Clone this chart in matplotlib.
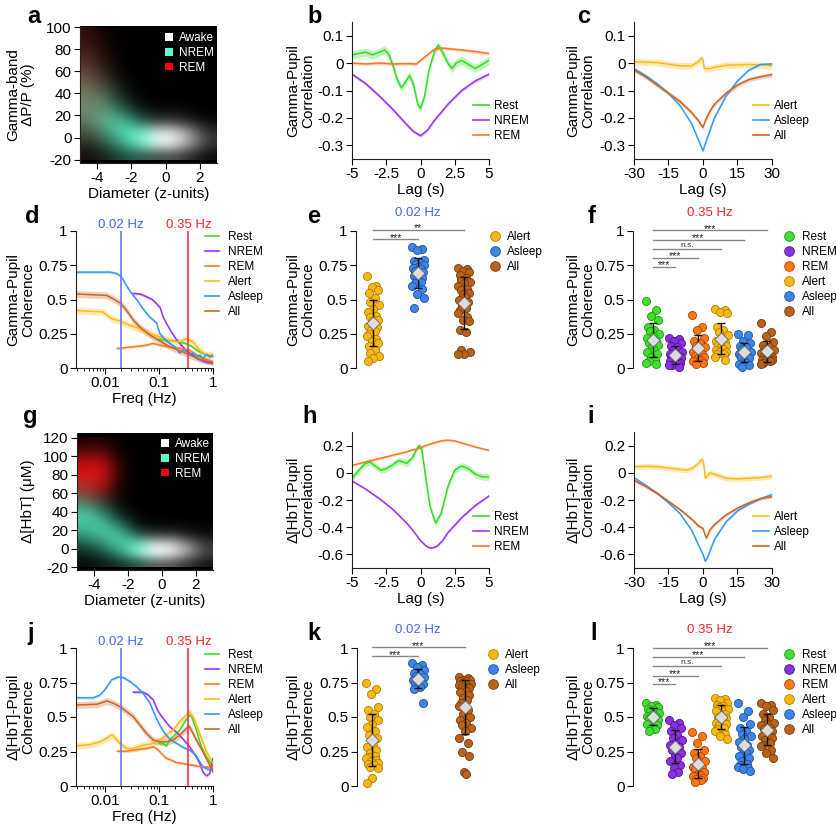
import numpy as np
import matplotlib
matplotlib.use('Agg')
import matplotlib.pyplot as plt
from matplotlib.patches import Patch
from matplotlib.lines import Line2D
import matplotlib.transforms as mtransforms

plt.rcParams['font.family'] = ['Liberation Sans', 'DejaVu Sans']
plt.rcParams['axes.unicode_minus'] = False

W, H = 837, 825

# colours
REST, NREM, REM = '#33dd22', '#9933ff', '#ff7722'
ALERT, ASLEEP, ALL = '#ffbb11', '#3399ff', '#cc6622'
SC_FACE = {'Rest': '#44dd33', 'NREM': '#8833dd', 'REM': '#ff7711',
           'Alert': '#fbb714', 'Asleep': '#3d85e8', 'All': '#b8621b'}
SC_EDGE = {'Rest': '#229911', 'NREM': '#551199', 'REM': '#aa4400',
           'Alert': '#b07f00', 'Asleep': '#1a55a0', 'All': '#7a3d0a'}

# ---------------- a: gamma vs diameter density (coarse grid, rows y=-15..95) ----
a_awake = [
    [0, 0, 0, 0.02, 0.25, 0.30, 0.15, 0.05],
    [0, 0, 0, 0.12, 0.85, 0.95, 0.60, 0.20],
    [0, 0, 0, 0.10, 0.80, 0.90, 0.55, 0.18],
    [0, 0, 0, 0.02, 0.20, 0.25, 0.12, 0.04],
    [0, 0, 0, 0, 0.04, 0.05, 0.02, 0],
    [0] * 8, [0] * 8, [0] * 8, [0] * 8, [0] * 8, [0] * 8, [0] * 8,
]
a_nrem = [
    [0.05, 0.15, 0.30, 0.35, 0.05, 0, 0, 0],
    [0.15, 0.35, 0.65, 0.85, 0.15, 0, 0, 0],
    [0.30, 0.55, 0.85, 0.85, 0.12, 0, 0, 0],
    [0.45, 0.70, 0.75, 0.40, 0.03, 0, 0, 0],
    [0.50, 0.60, 0.40, 0.12, 0, 0, 0, 0],
    [0.48, 0.45, 0.18, 0.03, 0, 0, 0, 0],
    [0.40, 0.30, 0.08, 0, 0, 0, 0, 0],
    [0.30, 0.16, 0.03, 0, 0, 0, 0, 0],
    [0.20, 0.08, 0, 0, 0, 0, 0, 0],
    [0.12, 0.04, 0, 0, 0, 0, 0, 0],
    [0.07, 0.02, 0, 0, 0, 0, 0, 0],
    [0.04, 0, 0, 0, 0, 0, 0, 0],
]
a_rem = [
    [0.06, 0.03, 0, 0, 0, 0, 0, 0],
    [0.12, 0.06, 0, 0, 0, 0, 0, 0],
    [0.18, 0.09, 0, 0, 0, 0, 0, 0],
    [0.22, 0.12, 0.02, 0, 0, 0, 0, 0],
    [0.26, 0.15, 0.02, 0, 0, 0, 0, 0],
    [0.30, 0.17, 0.02, 0, 0, 0, 0, 0],
    [0.30, 0.17, 0.02, 0, 0, 0, 0, 0],
    [0.30, 0.15, 0.02, 0, 0, 0, 0, 0],
    [0.28, 0.12, 0, 0, 0, 0, 0, 0],
    [0.25, 0.09, 0, 0, 0, 0, 0, 0],
    [0.22, 0.06, 0, 0, 0, 0, 0, 0],
    [0.18, 0.05, 0, 0, 0, 0, 0, 0],
]

# ---------------- g: HbT vs diameter density (rows y=-15..115) ----------------
g_awake = [
    [0, 0, 0, 0.02, 0.30, 0.35, 0.20, 0.08],
    [0, 0, 0, 0.15, 0.90, 0.95, 0.65, 0.25],
    [0, 0, 0, 0.10, 0.80, 0.85, 0.55, 0.20],
    [0, 0, 0, 0.02, 0.20, 0.22, 0.12, 0.05],
    [0, 0, 0, 0, 0.03, 0.04, 0.02, 0.01],
    [0] * 8, [0] * 8, [0] * 8, [0] * 8, [0] * 8, [0] * 8, [0] * 8, [0] * 8, [0] * 8,
]
g_nrem = [
    [0.05, 0.10, 0.20, 0.30, 0.08, 0, 0, 0],
    [0.15, 0.30, 0.55, 0.80, 0.20, 0, 0, 0],
    [0.35, 0.55, 0.80, 0.75, 0.10, 0, 0, 0],
    [0.60, 0.75, 0.80, 0.35, 0.03, 0, 0, 0],
    [0.75, 0.80, 0.50, 0.10, 0, 0, 0, 0],
    [0.80, 0.60, 0.20, 0.02, 0, 0, 0, 0],
    [0.60, 0.35, 0.06, 0, 0, 0, 0, 0],
    [0.35, 0.15, 0.02, 0, 0, 0, 0, 0],
    [0.15, 0.05, 0, 0, 0, 0, 0, 0],
    [0.06, 0.02, 0, 0, 0, 0, 0, 0],
    [0] * 8, [0] * 8, [0] * 8, [0] * 8,
]
g_rem = [
    [0] * 8, [0] * 8, [0] * 8, [0] * 8, [0] * 8,
    [0.03, 0.03, 0, 0, 0, 0, 0, 0],
    [0.10, 0.10, 0.01, 0, 0, 0, 0, 0],
    [0.30, 0.30, 0.03, 0, 0, 0, 0, 0],
    [0.60, 0.60, 0.08, 0, 0, 0, 0, 0],
    [0.75, 0.80, 0.12, 0, 0, 0, 0, 0],
    [0.80, 0.85, 0.14, 0, 0, 0, 0, 0],
    [0.65, 0.70, 0.10, 0, 0, 0, 0, 0],
    [0.35, 0.40, 0.05, 0, 0, 0, 0, 0],
    [0.12, 0.15, 0.02, 0, 0, 0, 0, 0],
]

# ---------------- b: gamma-pupil cross-correlation by state ----------------
b_rest_lag = [-5, -4.5, -4, -3.5, -3, -2.6, -2.3, -2, -1.7, -1.4, -1.1, -0.8, -0.5, -0.2, 0,
              0.3, 0.6, 1, 1.3, 1.6, 2, 2.3, 2.6, 3, 3.5, 4, 4.5, 5]
b_rest = [0.03, 0.035, 0.04, 0.03, 0.04, 0.048, 0.03, -0.01, -0.06, -0.09, -0.07, -0.045, -0.08,
          -0.15, -0.165, -0.12, -0.03, 0.04, 0.065, 0.04, 0.0, -0.02, 0.0, 0.01, -0.005, -0.02,
          -0.005, 0.01]
b_nrem_lag = [-5, -4, -3, -2, -1, -0.5, 0, 0.5, 1, 2, 3, 4, 5]
b_nrem = [-0.04, -0.075, -0.12, -0.17, -0.225, -0.25, -0.265, -0.245, -0.21, -0.15, -0.1, -0.065, -0.04]
b_rem_lag = [-5, -4, -3, -2, -1, -0.3, 0, 0.5, 1, 1.5, 2, 3, 4, 5]
b_rem = [0, -0.003, 0, -0.003, -0.002, -0.003, 0.01, 0.03, 0.05, 0.055, 0.053, 0.048, 0.042, 0.035]
b_sem = {'Rest': 0.015, 'NREM': 0.006, 'REM': 0.006}

# ---------------- c: gamma-pupil cross-correlation by arousal ----------------
c_alert_lag = [-30, -20, -10, -5, -2, -0.5, 0, 0.5, 1.5, 3, 5, 10, 20, 30]
c_alert = [0.005, 0.002, -0.01, -0.01, 0.005, 0.02, 0.01, -0.02, -0.02, -0.02, -0.015, -0.008, -0.005, -0.01]
c_asleep_lag = [-30, -25, -20, -15, -10, -5, -2, 0, 2, 5, 10, 15, 20, 25, 30]
c_asleep = [-0.02, -0.045, -0.075, -0.11, -0.155, -0.22, -0.28, -0.32, -0.27, -0.2, -0.12,
            -0.065, -0.025, -0.005, -0.003]
c_all_lag = [-30, -25, -20, -15, -10, -5, -2, 0, 1, 3, 5, 10, 15, 20, 25, 30]
c_all = [-0.025, -0.05, -0.08, -0.11, -0.14, -0.18, -0.21, -0.235, -0.21, -0.175, -0.15, -0.11,
         -0.08, -0.06, -0.05, -0.042]
c_sem = {'Alert': 0.012, 'Asleep': 0.004, 'All': 0.008}

# ---------------- d: gamma-pupil coherence ----------------
d_rest_f = [0.1, 0.119, 0.158, 0.2, 0.3, 0.4, 0.5, 0.7, 1.0]
d_rest = [0.21, 0.205, 0.2, 0.2, 0.18, 0.16, 0.13, 0.1, 0.09]
d_nrem_f = [0.033, 0.045, 0.059, 0.075, 0.09, 0.105, 0.12, 0.14, 0.16, 0.2, 0.24, 0.3, 0.37,
            0.5, 0.65, 0.8, 1.0]
d_nrem = [0.545, 0.54, 0.52, 0.5, 0.47, 0.44, 0.37, 0.32, 0.28, 0.22, 0.18, 0.14, 0.11, 0.07,
          0.05, 0.04, 0.035]
d_rem_f = [0.0169, 0.0334, 0.0587, 0.078, 0.1035, 0.158, 0.242, 0.371, 0.568, 1.0]
d_rem = [0.143, 0.155, 0.167, 0.18, 0.167, 0.155, 0.143, 0.13, 0.08, 0.045]
d_alert_f = [0.0029, 0.0047, 0.009, 0.0133, 0.0197, 0.029, 0.042, 0.068, 0.1, 0.158, 0.242,
             0.322, 0.427, 0.568, 0.754, 1.0]
d_alert = [0.42, 0.415, 0.41, 0.36, 0.34, 0.31, 0.29, 0.25, 0.23, 0.2, 0.19, 0.215, 0.19, 0.13,
           0.095, 0.1]
d_asleep_f = [0.0029, 0.005, 0.008, 0.0124, 0.0164, 0.0197, 0.0234, 0.029, 0.0385, 0.051, 0.068,
              0.09, 0.104, 0.128, 0.158, 0.196, 0.242, 0.28, 0.322, 0.37, 0.427, 0.5, 0.568,
              0.65, 0.754, 0.87, 1.0]
d_asleep = [0.70, 0.70, 0.70, 0.70, 0.69, 0.67, 0.62, 0.56, 0.5, 0.43, 0.37, 0.33, 0.25, 0.21,
            0.18, 0.155, 0.11, 0.13, 0.12, 0.1, 0.11, 0.08, 0.095, 0.07, 0.1, 0.08, 0.09]
d_all_f = [0.0029, 0.0107, 0.0142, 0.0197, 0.025, 0.0334, 0.044, 0.068, 0.1, 0.158, 0.242,
           0.371, 0.568, 1.0]
d_all = [0.54, 0.53, 0.505, 0.47, 0.42, 0.35, 0.3, 0.24, 0.2, 0.155, 0.126, 0.095, 0.063, 0.04]
coh_sem = {'Rest': 0.01, 'NREM': 0.01, 'REM': 0.01, 'Alert': 0.025, 'Asleep': 0.01, 'All': 0.025}

# ---------------- e / f: gamma-pupil coherence at 0.02 / 0.35 Hz ----------------
e_alert = [0.67, 0.6, 0.59, 0.57, 0.55, 0.51, 0.48, 0.46, 0.43, 0.41, 0.38, 0.37, 0.35, 0.34,
           0.33, 0.31, 0.3, 0.28, 0.27, 0.25, 0.23, 0.21, 0.2, 0.18, 0.16, 0.13, 0.11, 0.09,
           0.07, 0.05]
e_asleep = [0.88, 0.87, 0.86, 0.79, 0.78, 0.77, 0.76, 0.75, 0.74, 0.73, 0.72, 0.71, 0.7, 0.69,
            0.68, 0.67, 0.66, 0.65, 0.63, 0.62, 0.6, 0.58, 0.54, 0.51, 0.44]
e_all = [0.73, 0.72, 0.71, 0.7, 0.68, 0.66, 0.64, 0.63, 0.62, 0.6, 0.58, 0.57, 0.55, 0.54, 0.52,
         0.5, 0.48, 0.46, 0.44, 0.42, 0.4, 0.37, 0.35, 0.34, 0.28, 0.26, 0.13, 0.12, 0.1, 0.1]

f_rest = [0.49, 0.42, 0.38, 0.35, 0.3, 0.28, 0.27, 0.25, 0.23, 0.22, 0.2, 0.18, 0.17, 0.15,
          0.13, 0.12, 0.1, 0.08, 0.06, 0.05, 0.04, 0.03]
f_nrem = [0.22, 0.21, 0.2, 0.18, 0.16, 0.15, 0.13, 0.12, 0.11, 0.1, 0.09, 0.08, 0.07, 0.06,
          0.05, 0.05, 0.04, 0.03, 0.03, 0.02, 0.02, 0.01]
f_rem = [0.39, 0.3, 0.28, 0.22, 0.2, 0.18, 0.16, 0.15, 0.13, 0.12, 0.1, 0.09, 0.08, 0.07, 0.06,
         0.05, 0.04, 0.03]
f_alert = [0.43, 0.42, 0.41, 0.4, 0.3, 0.28, 0.26, 0.24, 0.22, 0.2, 0.19, 0.17, 0.16, 0.15,
           0.14, 0.13, 0.12, 0.12, 0.1, 0.1, 0.08, 0.06]
f_asleep = [0.25, 0.24, 0.2, 0.18, 0.16, 0.15, 0.14, 0.12, 0.11, 0.1, 0.09, 0.08, 0.07, 0.05,
            0.04, 0.03, 0.02, 0.01]
f_all = [0.33, 0.26, 0.23, 0.19, 0.17, 0.15, 0.14, 0.13, 0.12, 0.11, 0.1, 0.09, 0.08, 0.08,
         0.07, 0.06, 0.06, 0.05, 0.05, 0.04, 0.03]

# ---------------- h: HbT-pupil cross-correlation by state ----------------
h_rest_lag = [-5, -4.5, -4, -3.7, -3.3, -2.9, -2.5, -2, -1.6, -1.3, -1, -0.6, -0.3, -0.1, 0.1,
              0.4, 0.7, 1.1, 1.5, 2, 2.5, 3, 3.5, 4, 4.5, 5]
h_rest = [-0.04, 0.02, 0.07, 0.08, 0.05, 0.02, 0.03, 0.06, 0.09, 0.08, 0.07, 0.11, 0.17, 0.2,
          0.17, -0.05, -0.25, -0.37, -0.3, -0.1, 0.02, 0.05, 0.03, -0.01, -0.03, -0.03]
h_nrem_lag = [-5, -4, -3, -2, -1, -0.5, 0, 0.5, 0.8, 1.2, 1.6, 2, 3, 4, 5]
h_nrem = [-0.06, -0.12, -0.19, -0.27, -0.37, -0.43, -0.5, -0.545, -0.555, -0.54, -0.5, -0.44,
          -0.33, -0.24, -0.17]
h_rem_lag = [-5, -4, -3, -2, -1, 0, 0.5, 1, 1.5, 2, 2.5, 3, 4, 5]
h_rem = [0.055, 0.08, 0.105, 0.13, 0.155, 0.185, 0.205, 0.22, 0.235, 0.24, 0.235, 0.22, 0.19, 0.165]
h_sem = {'Rest': 0.025, 'NREM': 0.008, 'REM': 0.008}

# ---------------- i: HbT-pupil cross-correlation by arousal ----------------
i_alert_lag = [-30, -25, -20, -15, -10, -7, -4, -2, -0.5, 0, 0.5, 1, 2, 3, 5, 10, 15, 20, 25, 30]
i_alert = [0.045, 0.048, 0.045, 0.035, 0.025, 0.02, 0.04, 0.07, 0.1, 0.09, 0.04, -0.04, -0.02,
           0.0, -0.01, -0.04, -0.045, -0.04, -0.035, -0.025]
i_asleep_lag = [-30, -25, -20, -15, -10, -5, -2, 0, 1, 2, 5, 10, 15, 20, 25, 30]
i_asleep = [-0.035, -0.09, -0.15, -0.22, -0.3, -0.42, -0.53, -0.6, -0.65, -0.62, -0.49, -0.36,
            -0.28, -0.23, -0.19, -0.16]
i_all_lag = [-30, -25, -20, -15, -10, -5, -2, 0, 1, 1.5, 3, 5, 10, 15, 20, 25, 30]
i_all = [-0.055, -0.1, -0.15, -0.21, -0.27, -0.34, -0.39, -0.41, -0.46, -0.48, -0.42, -0.38,
         -0.31, -0.26, -0.22, -0.19, -0.175]
i_sem = {'Alert': 0.02, 'Asleep': 0.008, 'All': 0.012}

# ---------------- j: HbT-pupil coherence ----------------
j_rest_f = [0.1, 0.119, 0.137, 0.158, 0.196, 0.242, 0.3, 0.371, 0.398, 0.492, 0.61, 0.754, 0.93, 1.0]
j_rest = [0.308, 0.308, 0.29, 0.333, 0.37, 0.405, 0.466, 0.515, 0.505, 0.405, 0.284, 0.21, 0.163, 0.15]
j_nrem_f = [0.0334, 0.051, 0.063, 0.078, 0.0965, 0.119, 0.158, 0.21, 0.279, 0.371, 0.492,
            0.568, 0.654, 0.754, 0.868, 1.0]
j_nrem = [0.68, 0.68, 0.66, 0.624, 0.54, 0.49, 0.43, 0.39, 0.34, 0.284, 0.21, 0.163, 0.1,
          0.073, 0.09, 0.2]
j_rem_f = [0.0169, 0.0251, 0.0334, 0.0443, 0.0587, 0.078, 0.0899, 0.1035, 0.119, 0.1374, 0.17,
           0.21, 0.279, 0.371, 0.492, 0.654, 1.0]
j_rem = [0.252, 0.252, 0.26, 0.267, 0.272, 0.284, 0.272, 0.248, 0.223, 0.2, 0.187, 0.17, 0.163,
         0.155, 0.146, 0.138, 0.138]
j_alert_f = [0.0029, 0.0053, 0.0081, 0.0107, 0.0133, 0.0153, 0.0189, 0.0251, 0.0334, 0.051,
             0.078, 0.1035, 0.137, 0.183, 0.242, 0.322, 0.371, 0.427, 0.492, 0.61, 0.754, 1.0]
j_alert = [0.29, 0.3, 0.32, 0.345, 0.37, 0.35, 0.308, 0.272, 0.272, 0.296, 0.308, 0.333, 0.369,
           0.405, 0.466, 0.515, 0.534, 0.5, 0.44, 0.345, 0.248, 0.163]
j_asleep_f = [0.0029, 0.0061, 0.0081, 0.01, 0.0133, 0.0176, 0.0218, 0.029, 0.0385, 0.051, 0.068,
              0.0838, 0.1035, 0.128, 0.158, 0.21, 0.279, 0.371, 0.492, 0.568, 0.654, 0.809, 1.0]
j_asleep = [0.64, 0.64, 0.66, 0.70, 0.77, 0.79, 0.786, 0.757, 0.72, 0.67, 0.6, 0.515, 0.44, 0.38,
            0.34, 0.31, 0.28, 0.26, 0.22, 0.175, 0.14, 0.12, 0.125]
j_all_f = [0.0029, 0.007, 0.0093, 0.0107, 0.0142, 0.0189, 0.0251, 0.0334, 0.0443, 0.0587, 0.078,
           0.1035, 0.137, 0.183, 0.242, 0.322, 0.36, 0.427, 0.492, 0.654, 0.809, 1.0]
j_all = [0.587, 0.592, 0.607, 0.617, 0.6, 0.575, 0.539, 0.502, 0.442, 0.381, 0.333, 0.32, 0.32,
         0.333, 0.369, 0.417, 0.434, 0.381, 0.333, 0.248, 0.175, 0.102]

# ---------------- k / l: HbT-pupil coherence at 0.02 / 0.35 Hz ----------------
k_alert = [0.75, 0.7, 0.67, 0.57, 0.55, 0.52, 0.5, 0.48, 0.45, 0.43, 0.4, 0.37, 0.35, 0.33, 0.3,
           0.28, 0.26, 0.24, 0.22, 0.21, 0.2, 0.19, 0.18, 0.17, 0.16, 0.15, 0.14, 0.13, 0.06, 0.02]
k_asleep = [0.89, 0.88, 0.86, 0.84, 0.82, 0.81, 0.8, 0.79, 0.78, 0.77, 0.76, 0.75, 0.74, 0.73,
            0.72, 0.7, 0.6]
k_all = [0.79, 0.78, 0.77, 0.77, 0.76, 0.76, 0.75, 0.74, 0.74, 0.73, 0.72, 0.72, 0.71, 0.7, 0.69,
         0.68, 0.66, 0.64, 0.62, 0.6, 0.58, 0.55, 0.52, 0.5, 0.48, 0.46, 0.44, 0.42, 0.4, 0.35,
         0.31, 0.25, 0.22, 0.1, 0.09]

l_rest = [0.6, 0.59, 0.58, 0.57, 0.56, 0.55, 0.54, 0.53, 0.52, 0.51, 0.5, 0.49, 0.48, 0.47,
          0.46, 0.45, 0.44, 0.42, 0.41, 0.4]
l_nrem = [0.48, 0.46, 0.44, 0.42, 0.4, 0.37, 0.35, 0.33, 0.31, 0.3, 0.28, 0.26, 0.24, 0.22, 0.2,
          0.18, 0.15, 0.13, 0.1, 0.09]
l_rem = [0.39, 0.36, 0.31, 0.26, 0.24, 0.22, 0.2, 0.18, 0.16, 0.14, 0.13, 0.12, 0.1, 0.09, 0.08,
         0.07, 0.06, 0.05, 0.04, 0.03]
l_alert = [0.64, 0.63, 0.62, 0.6, 0.59, 0.58, 0.57, 0.56, 0.55, 0.54, 0.52, 0.5, 0.49, 0.48,
           0.47, 0.46, 0.45, 0.44, 0.42, 0.41, 0.4, 0.38, 0.36, 0.34]
l_asleep = [0.6, 0.54, 0.5, 0.45, 0.42, 0.4, 0.38, 0.36, 0.34, 0.32, 0.3, 0.28, 0.26, 0.25,
            0.24, 0.22, 0.2, 0.18, 0.16, 0.15, 0.14, 0.13, 0.12, 0.11]
l_all = [0.6, 0.59, 0.58, 0.55, 0.52, 0.5, 0.48, 0.46, 0.45, 0.44, 0.42, 0.41, 0.4, 0.38, 0.37,
         0.36, 0.35, 0.33, 0.31, 0.3, 0.29, 0.26, 0.24, 0.2]

STATES = ['Rest', 'NREM', 'REM']
AROUSAL = ['Alert', 'Asleep', 'All']
ALL6 = STATES + AROUSAL
LINE_COL = {'Rest': REST, 'NREM': NREM, 'REM': REM, 'Alert': ALERT, 'Asleep': ASLEEP, 'All': ALL}
JIT = [-1.0, 0.6, -0.2, 0.9, -0.7, 0.3, -0.4, 1.0, 0.0, -0.9, 0.5, -0.5, 0.8, -0.1, 0.2,
       -0.8, 0.7, -0.3, 0.4, -0.6]

fig = plt.figure(figsize=(W / 100, H / 100), dpi=100)


def add_ax(x, y, w, h):
    return fig.add_axes([x / W, 1 - (y + h) / H, w / W, h / H])


def style(ax, bottom=True):
    for s in ['top', 'right']:
        ax.spines[s].set_visible(False)
    ax.spines['left'].set_color('#222222')
    ax.spines['bottom'].set_color('#222222')
    if not bottom:
        ax.spines['bottom'].set_visible(False)
        ax.tick_params(axis='x', bottom=False, labelbottom=False)
    ax.tick_params(direction='out', length=4, width=0.8, labelsize=11, pad=2)


def ylab(ax, text, right_px):
    ax.set_ylabel(text, fontsize=11, linespacing=1.05)
    pos = ax.get_position()
    xa = (right_px / W - pos.x0) / pos.width
    ax.yaxis.set_label_coords(xa, 0.5)


def legend_at(ax, handles, labels, x, y, **kw):
    opts = dict(loc='upper left', bbox_to_anchor=(x / W, 1 - y / H),
                bbox_transform=fig.transFigure, frameon=False, borderpad=0,
                borderaxespad=0, fontsize=8.5, labelspacing=0.25)
    opts.update(kw)
    return ax.legend(handles, labels, **opts)


def band(ax, x, y, sem, color):
    x = np.asarray(x, float)
    y = np.asarray(y, float)
    ax.fill_between(x, y - sem, y + sem, color=color, alpha=0.3, lw=0)
    ax.plot(x, y, color=color, lw=1.1)


def letter(txt, x, y):
    fig.text(x / W, 1 - y / H, txt, fontsize=17, fontweight='bold', va='baseline', ha='left')


def density(ax, awake, nrem, rem, ylo, yhi, yticks, ylim):
    aw = np.array(awake)[..., None]
    nr = np.array(nrem)[..., None]
    rm = np.array(rem)[..., None]
    rgb = aw * np.array([1, 1, 1]) + nr * np.array([0.35, 1.0, 0.8]) + rm * np.array([1.0, 0.08, 0.08])
    rgb = np.clip(rgb, 0, 1)
    ax.set_facecolor('black')
    ax.imshow(rgb, origin='lower', extent=(-5, 3, ylo, yhi), aspect='auto',
              interpolation='bicubic')
    ax.set_xlim(-5, 3)
    ax.set_ylim(*ylim)
    ax.set_xticks([-4, -2, 0, 2])
    ax.set_yticks(yticks)
    style(ax)
    ax.set_xlabel('Diameter (z-units)', fontsize=11, labelpad=1)
    h = [Patch(facecolor='white'), Patch(facecolor=(0.35, 1.0, 0.8)), Patch(facecolor='red')]
    return h


def coherence_panel(ax, series):
    for name, f, c in series:
        band(ax, f, c, coh_sem[name], LINE_COL[name])
    ax.set_xscale('log')
    ax.set_xlim(0.0029, 1)
    ax.set_ylim(0, 1)
    ax.axvline(0.02, color='#6677ff', lw=1.2)
    ax.axvline(0.35, color='#ff3355', lw=1.2)
    tr = mtransforms.blended_transform_factory(ax.transData, ax.transAxes)
    ax.text(0.02, 1.0, '0.02 Hz', transform=tr, ha='center', va='bottom', color='#4466ff', fontsize=9.5)
    ax.text(0.35, 1.0, '0.35 Hz', transform=tr, ha='center', va='bottom', color='#ff2222', fontsize=9.5)
    style(ax)
    ax.tick_params(which='minor', direction='out', length=2.5, width=0.6)
    ax.set_xticks([0.01, 0.1, 1], ['0.01', '0.1', '1'])
    ax.set_yticks([0, 0.25, 0.5, 0.75, 1], ['0', '0.25', '0.5', '0.75', '1'])
    ax.set_xlabel('Freq (Hz)', fontsize=11, labelpad=1)


def swarm(ax, groups, names, width):
    for i, (vals, name) in enumerate(zip(groups, names)):
        vals = np.asarray(vals, float)
        offs = np.resize(JIT, len(vals)) * width
        ax.scatter(i + offs, vals, s=34, c=SC_FACE[name], edgecolors=SC_EDGE[name],
                   linewidths=0.6, zorder=2, clip_on=False)
        m, sd = vals.mean(), vals.std()
        ax.errorbar(i, m, yerr=sd, color='#111111', capsize=3, lw=1, capthick=1, zorder=3)
        ax.scatter(i, m, marker='D', s=45, c='#dddddd', edgecolors='#666666', linewidths=0.6,
                   zorder=4)
    ax.set_ylim(0, 1)
    ax.set_yticks([0, 0.25, 0.5, 0.75, 1], ['0', '0.25', '0.5', '0.75', '1'])
    style(ax, bottom=False)


def sig(ax, x0, x1, y, txt):
    ax.plot([x0, x1], [y, y], color='#888888', lw=1, clip_on=False, zorder=1)
    if txt == 'n.s.':
        ax.annotate(txt, ((x0 + x1) / 2, y), xytext=(0, 1.6), textcoords='offset points',
                    ha='center', va='baseline', fontsize=6, color='#333333', annotation_clip=False)
    else:
        ax.annotate(txt, ((x0 + x1) / 2, y), xytext=(0, -1.0), textcoords='offset points',
                    ha='center', va='baseline', fontsize=7.5, color='#222222', annotation_clip=False)


def dot_handles(names):
    return [Line2D([], [], ls='', marker='o', markersize=7, markerfacecolor=SC_FACE[n],
                   markeredgecolor=SC_EDGE[n], markeredgewidth=0.6) for n in names]


def line_handles(names):
    return [Line2D([], [], color=LINE_COL[n], lw=1.2) for n in names]


# ---------------- panel a ----------------
ax = add_ax(80, 26, 137, 137)
hp = density(ax, a_awake, a_nrem, a_rem, -20, 100, [-20, 0, 20, 40, 60, 80, 100], (-23, 101))
ylab(ax, 'Gamma-band\nΔP/P (%)', 35)
lg = legend_at(ax, hp, ['Awake', 'NREM', 'REM'], 165, 32, fontsize=8.5, handlelength=0.7,
               handleheight=0.6, handletextpad=0.45, labelcolor='white')

# ---------------- panel b ----------------
ax = add_ax(352, 22, 137, 137)
band(ax, b_rest_lag, b_rest, b_sem['Rest'], REST)
band(ax, b_nrem_lag, b_nrem, b_sem['NREM'], NREM)
band(ax, b_rem_lag, b_rem, b_sem['REM'], REM)
ax.set_xlim(-5, 5)
ax.set_ylim(-0.35, 0.15)
ax.set_xticks([-5, -2.5, 0, 2.5, 5], ['-5', '-2.5', '0', '2.5', '5'])
ax.set_yticks([-0.3, -0.2, -0.1, 0, 0.1], ['-0.3', '-0.2', '-0.1', '0', '0.1'])
style(ax)
ax.set_xlabel('Lag (s)', fontsize=11, labelpad=1)
ylab(ax, 'Gamma-Pupil\nCorrelation', 315)
legend_at(ax, line_handles(STATES), STATES, 473, 100, handlelength=1.35, handletextpad=0.4)

# ---------------- panel c ----------------
ax = add_ax(634, 22, 138, 137)
band(ax, c_alert_lag, c_alert, c_sem['Alert'], ALERT)
band(ax, c_asleep_lag, c_asleep, c_sem['Asleep'], ASLEEP)
band(ax, c_all_lag, c_all, c_sem['All'], ALL)
ax.set_xlim(-30, 30)
ax.set_ylim(-0.35, 0.15)
ax.set_xticks([-30, -15, 0, 15, 30])
ax.set_yticks([-0.3, -0.2, -0.1, 0, 0.1], ['-0.3', '-0.2', '-0.1', '0', '0.1'])
style(ax)
ax.set_xlabel('Lag (s)', fontsize=11, labelpad=1)
ylab(ax, 'Gamma-Pupil\nCorrelation', 595)
legend_at(ax, line_handles(AROUSAL), AROUSAL, 753, 100, handlelength=1.35, handletextpad=0.4)

# ---------------- panel d ----------------
ax = add_ax(76, 231, 137, 137)
coherence_panel(ax, [('Rest', d_rest_f, d_rest), ('NREM', d_nrem_f, d_nrem),
                     ('REM', d_rem_f, d_rem), ('Alert', d_alert_f, d_alert),
                     ('Asleep', d_asleep_f, d_asleep), ('All', d_all_f, d_all)])
ylab(ax, 'Gamma-Pupil\nCoherence', 35)
legend_at(ax, line_handles(ALL6), ALL6, 205, 231, handlelength=1.2, handletextpad=0.75)

# ---------------- panel e ----------------
ax = add_ax(356, 231, 126, 137)
swarm(ax, [e_alert, e_asleep, e_all], AROUSAL, 0.13)
ax.set_xlim(-0.37, 2.4)
sig(ax, 0, 1, 0.94, '***')
sig(ax, 0, 2, 1.01, '**')
ylab(ax, 'Gamma-Pupil\nCoherence', 315)
legend_at(ax, dot_handles(AROUSAL), AROUSAL, 490, 231, handlelength=0.8, handletextpad=0.6)
fig.text(418 / W, 1 - 213 / H, '0.02 Hz', color='#4466ff', fontsize=9.5, ha='center', va='center')

# ---------------- panel f ----------------
ax = add_ax(633, 231, 148, 137)
swarm(ax, [f_rest, f_nrem, f_rem, f_alert, f_asleep, f_all], ALL6, 0.28)
ax.set_xlim(-0.85, 5.6)
sig(ax, 0, 1, 0.738, '***')
sig(ax, 0, 2, 0.805, '***')
sig(ax, 0, 3, 0.867, 'n.s.')
sig(ax, 0, 4, 0.937, '***')
sig(ax, 0, 5, 1.005, '***')
ylab(ax, 'Gamma-Pupil\nCoherence', 595)
legend_at(ax, dot_handles(ALL6), ALL6, 784, 231, handlelength=0.8, handletextpad=0.7)
fig.text(710 / W, 1 - 213 / H, '0.35 Hz', color='#ff2222', fontsize=9.5, ha='center', va='center')

# ---------------- panel g ----------------
ax = add_ax(77, 433, 136, 137)
hp = density(ax, g_awake, g_nrem, g_rem, -20, 120, [-20, 0, 20, 40, 60, 80, 100, 120], (-23, 125))
ylab(ax, 'Δ[HbT] (μM)', 35)
legend_at(ax, hp, ['Awake', 'NREM', 'REM'], 161, 438, fontsize=8.5, handlelength=0.7,
          handleheight=0.6, handletextpad=0.45, labelcolor='white')

# ---------------- panel h ----------------
ax = add_ax(352, 432, 137, 136)
band(ax, h_rest_lag, h_rest, h_sem['Rest'], REST)
band(ax, h_nrem_lag, h_nrem, h_sem['NREM'], NREM)
band(ax, h_rem_lag, h_rem, h_sem['REM'], REM)
ax.set_xlim(-5, 5)
ax.set_ylim(-0.7, 0.3)
ax.set_xticks([-5, -2.5, 0, 2.5, 5], ['-5', '-2.5', '0', '2.5', '5'])
ax.set_yticks([-0.6, -0.4, -0.2, 0, 0.2], ['-0.6', '-0.4', '-0.2', '0', '0.2'])
style(ax)
ax.set_xlabel('Lag (s)', fontsize=11, labelpad=1)
ylab(ax, 'Δ[HbT]-Pupil\nCorrelation', 315)
legend_at(ax, line_handles(STATES), STATES, 473, 511, handlelength=1.35, handletextpad=0.4)

# ---------------- panel i ----------------
ax = add_ax(634, 432, 138, 136)
band(ax, i_alert_lag, i_alert, i_sem['Alert'], ALERT)
band(ax, i_asleep_lag, i_asleep, i_sem['Asleep'], ASLEEP)
band(ax, i_all_lag, i_all, i_sem['All'], ALL)
ax.set_xlim(-30, 30)
ax.set_ylim(-0.7, 0.3)
ax.set_xticks([-30, -15, 0, 15, 30])
ax.set_yticks([-0.6, -0.4, -0.2, 0, 0.2], ['-0.6', '-0.4', '-0.2', '0', '0.2'])
style(ax)
ax.set_xlabel('Lag (s)', fontsize=11, labelpad=1)
ylab(ax, 'Δ[HbT]-Pupil\nCorrelation', 595)
legend_at(ax, line_handles(AROUSAL), AROUSAL, 753, 511, handlelength=1.35, handletextpad=0.4)

# ---------------- panel j ----------------
ax = add_ax(76, 648, 137, 138)
coherence_panel(ax, [('Rest', j_rest_f, j_rest), ('NREM', j_nrem_f, j_nrem),
                     ('REM', j_rem_f, j_rem), ('Alert', j_alert_f, j_alert),
                     ('Asleep', j_asleep_f, j_asleep), ('All', j_all_f, j_all)])
ylab(ax, 'Δ[HbT]-Pupil\nCoherence', 35)
legend_at(ax, line_handles(ALL6), ALL6, 205, 649, handlelength=1.2, handletextpad=0.75)

# ---------------- panel k ----------------
ax = add_ax(357, 648, 126, 138)
swarm(ax, [k_alert, k_asleep, k_all], AROUSAL, 0.13)
ax.set_xlim(-0.33, 2.4)
sig(ax, 0, 1, 0.94, '***')
sig(ax, 0, 2, 1.005, '***')
ylab(ax, 'Δ[HbT]-Pupil\nCoherence', 315)
legend_at(ax, dot_handles(AROUSAL), AROUSAL, 488, 649, handlelength=0.8, handletextpad=0.6)
fig.text(418 / W, 1 - 630 / H, '0.02 Hz', color='#4466ff', fontsize=9.5, ha='center', va='center')

# ---------------- panel l ----------------
ax = add_ax(633, 648, 148, 138)
swarm(ax, [l_rest, l_nrem, l_rem, l_alert, l_asleep, l_all], ALL6, 0.28)
ax.set_xlim(-0.85, 5.6)
sig(ax, 0, 1, 0.74, '***')
sig(ax, 0, 2, 0.80, '***')
sig(ax, 0, 3, 0.867, 'n.s.')
sig(ax, 0, 4, 0.937, '***')
sig(ax, 0, 5, 1.0, '***')
ylab(ax, 'Δ[HbT]-Pupil\nCoherence', 595)
legend_at(ax, dot_handles(ALL6), ALL6, 784, 649, handlelength=0.8, handletextpad=0.7)
fig.text(710 / W, 1 - 630 / H, '0.35 Hz', color='#ff2222', fontsize=9.5, ha='center', va='center')

# panel letters
for t, x, y in [('a', 27, 23), ('b', 307, 23), ('c', 577, 23),
                ('d', 25, 223), ('e', 307, 223), ('f', 588, 223),
                ('g', 23, 423), ('h', 302, 423), ('i', 587, 423),
                ('j', 27, 640), ('k', 307, 640), ('l', 590, 640)]:
    letter(t, x, y)

fig.savefig('out.png', dpi=100)
